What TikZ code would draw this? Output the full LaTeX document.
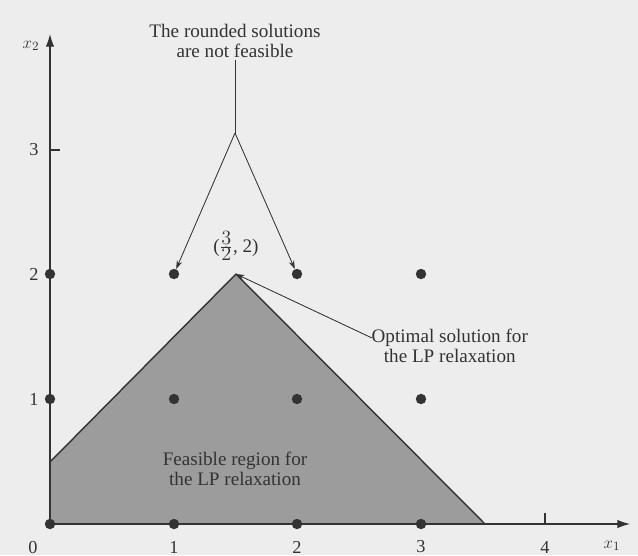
\documentclass[tikz,border=0pt]{standalone}
\usepackage{fontspec}
\setmainfont{Liberation Serif}
\usetikzlibrary{arrows.meta,calc}
\definecolor{paper}{HTML}{EDEDED}
\definecolor{region}{HTML}{9C9C9C}
\definecolor{ink}{HTML}{333333}
\begin{document}
\begin{tikzpicture}[x=0.025cm,y=-0.025cm,
  dot/.style={circle,fill=ink,inner sep=0pt,minimum size=0.26cm},
  lbl/.style={text=ink,font=\fontsize{13.6}{14.4}\selectfont,align=center,inner sep=1pt},
  num/.style={text=ink,font=\fontsize{13}{14}\selectfont,inner sep=0pt},
  ax/.style={ink,line width=0.8pt},
  pointer/.style={ink,line width=0.6pt,-{Stealth[length=6pt,width=4pt]}}]
\fill[paper] (0,0) rectangle (638,555);
\useasboundingbox (0,0) rectangle (638,555);
% feasible region
\coordinate (o) at (50,524);
\coordinate (a) at (50,462);
\coordinate (apex) at (236,274);
\coordinate (b) at (485,524);
\fill[region] (o) -- (a) -- (apex) -- (b) -- cycle;
\draw[ink,line width=1pt] (a) -- (apex) -- (b);
% axes
\coordinate (xend) at (630,524);
\coordinate (yend) at (50,34);
\draw[ax,-{Latex[length=9pt,width=6pt]}] (o) -- (xend);
\draw[ax,-{Latex[length=9pt,width=6pt]}] (o) -- (yend);
\draw[ax] (50,150) -- (60,150);
\draw[ax] (545,524) -- (545,513);
% axis labels
\node[num] (x1) at (612,546) {$x_1$};
\node[num] (x2) at (31,46) {$x_2$};
\node[num] (l0) at (33,547) {0};
\node[num] (l1) at (174,547) {1};
\node[num] (l2) at (297,547) {2};
\node[num] (l3) at (421,547) {3};
\node[num] (l4) at (545,547) {4};
\node[num] (m1) at (34,399) {1};
\node[num] (m2) at (34,274) {2};
\node[num] (m3) at (34,150) {3};
% lattice points
\foreach \i/\x in {0/50,1/174,2/297,3/421}{
  \foreach \j/\y in {0/524,1/399,2/274}{
    \node[dot] (d\i\j) at (\x,\y) {};
  }
}
% annotations
\node[lbl] (top) at (235,41) {The rounded solutions\\are not feasible};
\coordinate (junc) at (235,133);
\draw[ink,line width=0.6pt] (top.south) -- (junc);
\draw[pointer] (junc) -- (d12);
\draw[pointer] (junc) -- (d22);
\node[lbl] (frac) at (236,246) {($\frac{\textstyle 3}{\textstyle 2}$, 2)};
\node[lbl,anchor=west] (opt) at (370,346) {Optimal solution for\\the LP relaxation};
\draw[pointer] ($(opt.west)+(2,-8)$) -- (apex);
\node[lbl] (feas) at (235,469) {Feasible region for\\the LP relaxation};
\end{tikzpicture}
\end{document}
